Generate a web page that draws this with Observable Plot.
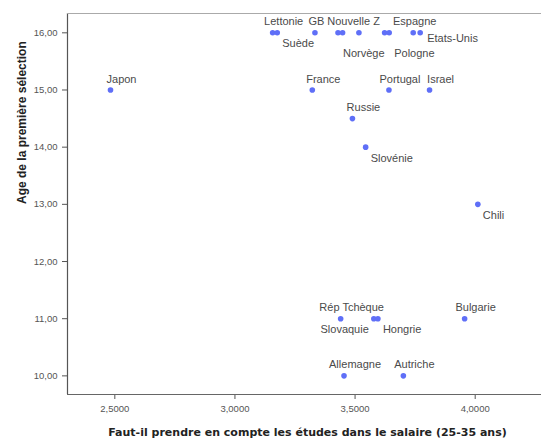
<!DOCTYPE html>
<html>
<head>
<meta charset="utf-8">
<script src="https://cdn.jsdelivr.net/npm/d3@7"></script>
<script src="https://cdn.jsdelivr.net/npm/@observablehq/plot@0.6"></script>
<style>
  html, body { margin: 0; padding: 0; background: #fff; }
  svg { display: block; }
</style>
</head>
<body>
<div id="chart"></div>
<script>
// Countries (empty name = point shown without a label)
const countries = ["Lettonie","Suède","GB","Norvège","Nouvelle Z","","","Pologne","Espagne","Etats-Unis",
  "Japon","France","Portugal","Israel","Russie","Slovénie","Chili",
  "Rép Tchèque","Slovaquie","Hongrie","Bulgarie","Allemagne","Autriche"];
// Faut-il prendre en compte les études dans le salaire (25-35 ans)
const etudes = [3.157,3.176,3.333,3.429,3.448,3.516,3.623,3.642,3.742,3.771,
  2.482,3.322,3.641,3.810,3.489,3.544,4.011,
  3.440,3.578,3.595,3.956,3.454,3.701];
// Age de la première sélection
const age = [16,16,16,16,16,16,16,16,16,16,
  15,15,15,15,14.5,14,13,
  11,11,11,11,10,10];
// label placement keyword relative to the point
const placement = ["n","se","nc","se2","n","n","n","se2","nc","e",
  "n","n","n","n","n","se","se",
  "n","sw","se","n","n","n"];

const xTicks = [2.5, 3.0, 3.5, 4.0];
const yTicks = [10, 11, 12, 13, 14, 15, 16];
const xDomain = [2.303, 4.276];
const yDomain = [9.674, 16.338];
const xTitle = "Faut-il prendre en compte les études dans le salaire (25-35 ans)";
const yTitle = "Age de la première sélection";

const data = countries.map((c, i) => ({country: c, x: etudes[i], y: age[i], place: placement[i]}));

const placeStyle = {
  n:   {textAnchor: "middle", dx: 11, dy: -11},
  nc:  {textAnchor: "middle", dx: 1.5, dy: -11},
  se:  {textAnchor: "start", dx: 5, dy: 11},
  se2: {textAnchor: "start", dx: 5, dy: 21},
  sw:  {textAnchor: "end", dx: -5, dy: 11},
  e:   {textAnchor: "start", dx: 7, dy: 5.5}
};

const fmt = (d, n) => d.toFixed(n).replace(".", ",");
const font = "'Liberation Sans', Arial, sans-serif";

const labelMarks = Object.entries(placeStyle).map(([k, s]) =>
  Plot.text(data.filter(d => d.place === k && d.country !== ""), {
    x: "x", y: "y", text: "country",
    textAnchor: s.textAnchor, dx: s.dx, dy: s.dy,
    lineAnchor: "middle", fontSize: 11, fill: "#4a4a4a"
  })
);

const chart = Plot.plot({
  width: 541,
  height: 439,
  marginLeft: 67,
  marginTop: 13,
  marginRight: 0,
  marginBottom: 45,
  style: {fontFamily: font, background: "#fff"},
  x: {domain: xDomain},
  y: {domain: yDomain},
  marks: [
    Plot.axisX({ticks: xTicks, tickFormat: d => fmt(d, 4), tickSize: 5, tickPadding: 6,
      fontSize: 9.5, stroke: "#555", fill: "#555", label: null}),
    Plot.axisY({ticks: yTicks, tickFormat: d => fmt(d, 2), tickSize: 5, tickPadding: 5,
      fontSize: 9.5, stroke: "#555", fill: "#555", label: null}),
    Plot.ruleX([xDomain[0]], {stroke: "#555", strokeWidth: 1.2}),
    Plot.ruleY([yDomain[0]], {stroke: "#666", strokeWidth: 1.2}),
    Plot.ruleY([yDomain[1]], {stroke: "#aaa", strokeWidth: 1.2}),
    Plot.dot(data, {x: "x", y: "y", r: 2.8, fill: "#5f6ff7", stroke: null}),
    ...labelMarks,
    Plot.text([xTitle], {text: d => d, frameAnchor: "bottom", dy: 37.7, dx: 3,
      lineAnchor: "middle", fontSize: 11, fontWeight: "bold", fill: "#222",
      fontFamily: "'DejaVu Sans', sans-serif"}),
    Plot.text([yTitle], {text: d => d, frameAnchor: "left", dx: -45.5, rotate: -90,
      lineAnchor: "middle", fontSize: 12, fontWeight: "bold", fill: "#222"})
  ]
});
document.getElementById("chart").appendChild(chart);
</script>
</body>
</html>
